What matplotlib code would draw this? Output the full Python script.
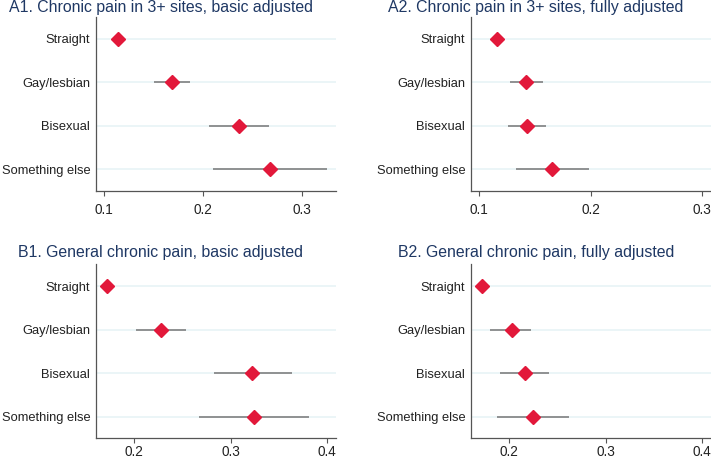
import matplotlib
matplotlib.use("Agg")
import matplotlib.pyplot as plt

plt.rcParams['font.family'] = ['Liberation Sans', 'DejaVu Sans']

categories = ["Straight", "Gay/lesbian", "Bisexual", "Something else"]

titles = ["A1. Chronic pain in 3+ sites, basic adjusted",
          "A2. Chronic pain in 3+ sites, fully adjusted",
          "B1. General chronic pain, basic adjusted",
          "B2. General chronic pain, fully adjusted"]

a1_est = [0.1145, 0.1687, 0.2361, 0.2680]
a1_lo = [0.1115, 0.1505, 0.2061, 0.2101]
a1_hi = [0.1175, 0.1869, 0.2664, 0.3253]

a2_est = [0.1159, 0.1420, 0.1429, 0.1653]
a2_lo = [0.1130, 0.1279, 0.1258, 0.1327]
a2_hi = [0.1188, 0.1570, 0.1600, 0.1983]

b1_est = [0.1720, 0.2280, 0.3225, 0.3243]
b1_lo = [0.1690, 0.2025, 0.2828, 0.2672]
b1_hi = [0.1750, 0.2537, 0.3634, 0.3814]

b2_est = [0.1720, 0.2025, 0.2160, 0.2246]
b2_lo = [0.1690, 0.1800, 0.1900, 0.1872]
b2_hi = [0.1750, 0.2228, 0.2410, 0.2623]

a1_ticks = [0.1, 0.2, 0.3]
a2_ticks = [0.1, 0.2, 0.3]
b_ticks = [0.2, 0.3, 0.4]
tick_labels_a = ["0.1", "0.2", "0.3"]
tick_labels_b = ["0.2", "0.3", "0.4"]

panels = [
    (a1_est, a1_lo, a1_hi, a1_ticks, tick_labels_a, (0.0916, 0.334)),
    (a2_est, a2_lo, a2_hi, a2_ticks, tick_labels_a, (0.0923, 0.308)),
    (b1_est, b1_lo, b1_hi, b_ticks, tick_labels_b, (0.1603, 0.409)),
    (b2_est, b2_lo, b2_hi, b_ticks, tick_labels_b, (0.1600, 0.409)),
]

W, H = 711, 458
fig = plt.figure(figsize=(W / 100, H / 100), dpi=100)

# axes rectangles in pixels: left, top, right, bottom
rects = [(95.7, 16.7, 335.7, 190.7),
         (470.7, 16.7, 711.0, 190.7),
         (95.7, 264.0, 335.7, 438.0),
         (470.7, 264.0, 711.0, 438.0)]
title_pos = [(161, 7.5), (536, 7.5), (161, 253), (536, 253)]
xpads = [5, 5, 1.5, 1.5]

title_color = "#1f3864"
red = "#e2183a"
ci_color = "#767676"
grid_color = "#e8f3f6"
spine_color = "#555555"

ypos = list(range(len(categories)))

for i, (est, lo, hi, ticks, tlabels, xlim) in enumerate(panels):
    l, t, r, b = rects[i]
    ax = fig.add_axes([l / W, 1 - b / H, (r - l) / W, (b - t) / H])
    for y in ypos:
        ax.axhline(y, color=grid_color, lw=1.2, zorder=0)
    ax.hlines(ypos, lo, hi, color=ci_color, lw=1.1, zorder=2)
    ax.plot(est, ypos, linestyle='none', marker='D', markersize=7.2,
            color=red, markeredgecolor=red, zorder=3)
    ax.set_xlim(*xlim)
    ax.set_ylim(3.49, -0.51)
    ax.set_yticks(ypos)
    ax.set_yticklabels(categories, fontsize=9.3, color="#222222")
    ax.tick_params(axis='y', length=0, pad=4)
    ax.set_xticks(ticks)
    ax.set_xticklabels(tlabels, fontsize=9.8, color="#222222")
    ax.tick_params(axis='x', length=3.5, width=0.8, color=spine_color, pad=xpads[i])
    for s in ['top', 'right']:
        ax.spines[s].set_visible(False)
    for s in ['left', 'bottom']:
        ax.spines[s].set_color(spine_color)
        ax.spines[s].set_linewidth(0.9)
    tx, ty = title_pos[i]
    fig.text(tx / W, 1 - ty / H, titles[i], ha='center', va='center',
             fontsize=11.4, color=title_color)

fig.savefig("out.png", dpi=100)
